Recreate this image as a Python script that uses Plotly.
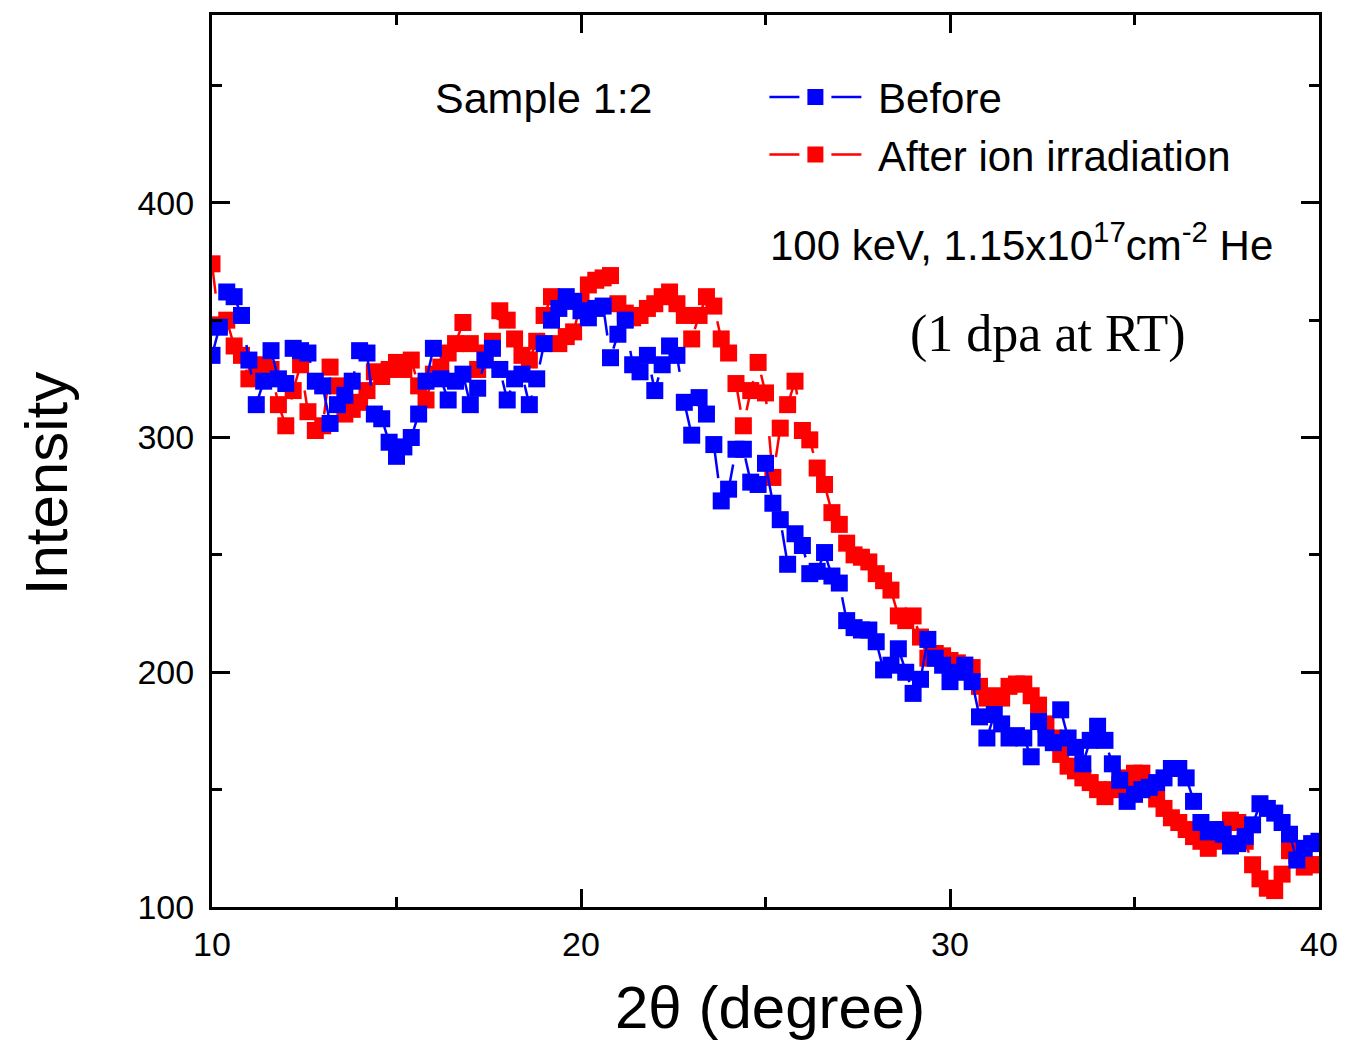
import plotly.graph_objects as go

two_theta = [10.0, 10.2, 10.4, 10.6, 10.8, 11.0, 11.2, 11.4, 11.6, 11.8,
             12.0, 12.2, 12.4, 12.6, 12.8, 13.0, 13.2, 13.4, 13.6, 13.8,
             14.0, 14.2, 14.4, 14.6, 14.8, 15.0, 15.2, 15.4, 15.6, 15.8,
             16.0, 16.2, 16.4, 16.6, 16.8, 17.0, 17.2, 17.4, 17.6, 17.8,
             18.0, 18.2, 18.4, 18.6, 18.8, 19.0, 19.2, 19.4, 19.6, 19.8,
             20.0, 20.2, 20.4, 20.6, 20.8, 21.0, 21.2, 21.4, 21.6, 21.8,
             22.0, 22.2, 22.4, 22.6, 22.8, 23.0, 23.2, 23.4, 23.6, 23.8,
             24.0, 24.2, 24.4, 24.6, 24.8, 25.0, 25.2, 25.4, 25.6, 25.8,
             26.0, 26.2, 26.4, 26.6, 26.8, 27.0, 27.2, 27.4, 27.6, 27.8,
             28.0, 28.2, 28.4, 28.6, 28.8, 29.0, 29.2, 29.4, 29.6, 29.8,
             30.0, 30.2, 30.4, 30.6, 30.8, 31.0, 31.2, 31.4, 31.6, 31.8,
             32.0, 32.2, 32.4, 32.6, 32.8, 33.0, 33.2, 33.4, 33.6, 33.8,
             34.0, 34.2, 34.4, 34.6, 34.8, 35.0, 35.2, 35.4, 35.6, 35.8,
             36.0, 36.2, 36.4, 36.6, 36.8, 37.0, 37.2, 37.4, 37.6, 37.8,
             38.0, 38.2, 38.4, 38.6, 38.8, 39.0, 39.2, 39.4, 39.6, 39.8,
             40.0]

before = [335, 347, 362, 360, 352, 333, 314, 324, 337, 325,
          323, 338, 337, 336, 324, 322, 306, 314, 318, 324,
          337, 336, 310, 308, 298, 292, 296, 300, 310, 324,
          338, 325, 316, 324, 327, 314, 321, 333, 338, 329,
          316, 325, 327, 314, 325, 340, 350, 355, 360, 358,
          354, 351, 355, 356, 334, 344, 350, 331, 328, 335,
          320, 331, 339, 335, 315, 301, 317, 310, 297, 273,
          278, 295, 295, 281, 280, 289, 272, 265, 246, 259,
          254, 242, 243, 251, 241, 238, 222, 219, 218, 218,
          213, 201, 203, 210, 200, 191, 197, 214, 206, 203,
          196, 200, 203, 196, 181, 172, 182, 178, 172, 173,
          172, 164, 179, 172, 170, 184, 172, 168, 161, 171,
          177, 171, 161, 154, 145, 148, 150, 151, 153, 155,
          159, 159, 155, 145, 136, 132, 133, 131, 126, 127,
          130, 135, 144, 142, 140, 136, 131, 120, 125, 127,
          128]

after = [374, 348, 350, 339, 335, 325, 328, 331, 329, 314,
         305, 320, 331, 311, 303, 305, 330, 322, 310, 312,
         315, 320, 328, 326, 329, 332, 329, 333, 322, 316,
         327, 330, 336, 340, 349, 340, 329, 336, 341, 354,
         350, 342, 335, 333, 341, 352, 360, 340, 343, 345,
         358, 365, 367, 368, 369, 357, 353, 351, 352, 355,
         357, 360, 362, 357, 352, 342, 352, 360, 356, 342,
         336, 323, 305, 320, 332, 319, 283, 304, 314, 324,
         303, 299, 287, 280, 268, 263, 255, 250, 249, 247,
         242, 239, 235, 224, 222, 224, 215, 206, 208, 207,
         205, 204, 203, 202, 194, 189, 190, 189, 194, 195,
         195, 190, 186, 178, 172, 165, 160, 158, 155, 153,
         150, 147, 150, 152, 155, 157, 157, 150, 146, 142,
         138, 136, 133, 130, 128, 125, 128, 133, 137, 136,
         128, 118, 112, 108, 107, 114, 124, 122, 117, 118,
         118]

x_ticks = [10, 20, 30, 40]
y_ticks = [100, 200, 300, 400]

FONT = "Liberation Sans, Arial, sans-serif"
NB = "\u00a0"

fig = go.Figure()
fig.add_trace(go.Scatter(
    x=two_theta, y=after, name=NB + "After ion irradiation",
    mode="lines+markers",
    line=dict(color="#ff0000", width=2.5, dash="30px,32px"),
    marker=dict(symbol="square", size=17, color="#ff0000"),
))
fig.add_trace(go.Scatter(
    x=two_theta, y=before, name=NB + "Before",
    mode="lines+markers",
    line=dict(color="#0000ff", width=2.5, dash="30px,32px"),
    marker=dict(symbol="square", size=17, color="#0000ff"),
))

axis_common = dict(
    showline=True, linecolor="black", linewidth=3, mirror="allticks",
    ticks="inside", ticklen=18, tickwidth=3, tickcolor="black",
    showgrid=False, zeroline=False,
    tickfont=dict(family=FONT, size=34, color="black"),
)

fig.update_xaxes(range=[10, 40], tickvals=x_ticks, ticklabelstandoff=5,
                 minor=dict(tickvals=[15, 25, 35], ticklen=10, tickwidth=3,
                            ticks="inside", tickcolor="black"),
                 **axis_common)
fig.update_yaxes(range=[100, 480], tickvals=y_ticks, ticklabelstandoff=8,
                 minor=dict(tickvals=[150, 250, 350, 450], ticklen=10, tickwidth=3,
                            ticks="inside", tickcolor="black"),
                 **axis_common)

fig.update_layout(
    width=1350, height=1047,
    margin=dict(l=212, r=26, t=12, b=140),
    plot_bgcolor="white", paper_bgcolor="white",
    showlegend=True,
    legend=dict(x=0.499, y=0.946, xanchor="left", yanchor="top",
                traceorder="reversed", itemwidth=92,
                font=dict(family=FONT, size=42, color="black"),
                bgcolor="rgba(0,0,0,0)", tracegroupgap=0),
    annotations=[
        dict(text="Sample 1:2", x=0.300, y=0.907, xref="paper", yref="paper",
             xanchor="center", yanchor="middle",
             showarrow=False, font=dict(family=FONT, size=43, color="black")),
        dict(text="100 keV, 1.15x10<sup>17</sup>cm<sup>-2</sup> He", x=0.502, y=0.745,
             xref="paper", yref="paper", xanchor="left", yanchor="middle", showarrow=False,
             font=dict(family=FONT, size=42, color="black")),
        dict(text="(1 dpa at RT)", x=0.7555, y=0.642, xref="paper", yref="paper",
             xanchor="center", yanchor="middle", showarrow=False,
             font=dict(family="Liberation Serif, Times New Roman, serif", size=52, color="black")),
        dict(text="2θ (degree)", x=0.5045, y=-0.113, xref="paper", yref="paper",
             xanchor="center", yanchor="middle",
             showarrow=False, font=dict(family=FONT, size=60, color="black")),
        dict(text="Intensity", x=-0.150, y=0.475, xref="paper", yref="paper",
             xanchor="center", yanchor="middle",
             textangle=-90, showarrow=False,
             font=dict(family=FONT, size=60, color="black")),
    ],
)

fig.write_html("out.html")
